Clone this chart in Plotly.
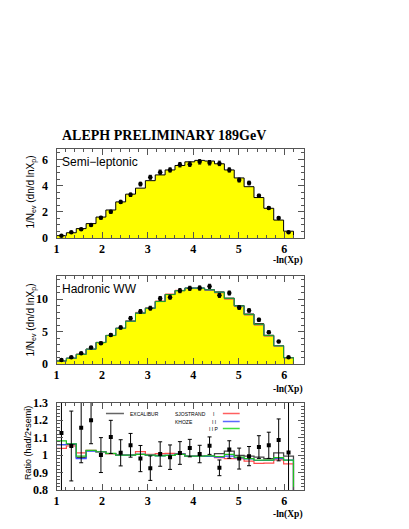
import numpy as np
import plotly.graph_objects as go

# 24 bins in -ln(Xp) from 1.0 to 6.2
edges = np.linspace(1.0, 6.2, 25)
centers = (edges[:-1] + edges[1:]) / 2

semi_mc = [0.18, 0.40, 0.72, 1.10, 1.60, 2.14, 2.76, 3.35, 3.81, 4.38, 4.82, 5.20,
           5.54, 5.82, 5.93, 5.88, 5.67, 5.20, 4.59, 3.92, 3.09, 2.27, 1.37, 0.52]
semi_data = [0.18, 0.44, 0.67, 1.00, 1.55, 2.00, 2.76, 3.30, 4.12, 4.64, 5.03, 5.20,
             5.60, 5.64, 5.82, 5.75, 5.70, 5.20, 4.43, 4.20, 3.22, 2.29, 1.52, 0.44]
semi_err = [0.05, 0.06, 0.07, 0.08, 0.10, 0.11, 0.12, 0.13, 0.14, 0.15, 0.16, 0.16,
            0.17, 0.17, 0.17, 0.17, 0.17, 0.16, 0.15, 0.14, 0.12, 0.10, 0.08, 0.06]

had_excalibur = [0.46, 0.88, 1.50, 2.27, 3.30, 4.38, 5.50, 6.60, 7.84, 8.60, 9.64, 10.70,
                 11.30, 11.70, 11.70, 11.45, 11.10, 10.15, 9.00, 7.70, 6.20, 4.43, 2.83, 0.98]
had_sjostrand_i = [0.45, 0.88, 1.50, 2.30, 3.33, 4.40, 5.50, 6.65, 7.95, 8.65, 9.70, 10.78,
                   11.35, 11.65, 11.62, 11.35, 10.95, 9.98, 8.85, 7.55, 6.00, 4.30, 2.75, 0.95]
had_khoze_ii = [0.46, 0.89, 1.47, 2.29, 3.32, 4.40, 5.50, 6.60, 7.86, 8.60, 9.62, 10.70,
                11.30, 11.68, 11.66, 11.40, 11.02, 10.08, 8.93, 7.60, 6.06, 4.36, 2.79, 0.97]
had_khoze_iip = [0.47, 0.90, 1.48, 2.30, 3.32, 4.40, 5.50, 6.60, 7.85, 8.60, 9.62, 10.70,
                 11.30, 11.68, 11.68, 11.42, 11.05, 10.10, 8.95, 7.62, 6.10, 4.38, 2.80, 0.97]
had_data = [0.62, 1.03, 1.65, 2.53, 3.20, 4.48, 5.62, 7.06, 8.10, 8.60, 10.10, 10.30,
            11.30, 11.65, 11.70, 11.96, 10.57, 10.93, 8.70, 8.25, 6.80, 4.90, 3.45, 1.03]
had_err = [0.10, 0.12, 0.14, 0.17, 0.19, 0.22, 0.24, 0.26, 0.28, 0.29, 0.30, 0.31,
           0.32, 0.32, 0.32, 0.32, 0.31, 0.30, 0.28, 0.26, 0.24, 0.20, 0.17, 0.12]

ratio_excalibur = [1.060, 1.060, 0.985, 1.025, 1.018, 1.008, 1.000, 1.000, 1.004, 1.000, 0.998, 0.998,
                   1.008, 0.994, 0.994, 0.994, 1.008, 1.023, 0.998, 0.994, 0.988, 0.979, 1.013, 0.994]
ratio_sjostrand_i = [1.038, 1.052, 1.013, 1.027, 1.020, 1.008, 1.000, 1.000, 1.020, 1.004, 1.008, 1.010,
                     1.005, 0.994, 0.994, 0.992, 0.985, 0.980, 0.979, 0.965, 0.952, 0.954, 0.973, 0.950]
ratio_khoze_ii = [1.060, 1.065, 0.980, 1.023, 1.019, 1.009, 1.000, 1.000, 1.004, 1.000, 0.996, 0.998,
                  1.005, 0.994, 0.994, 0.993, 0.988, 0.994, 0.984, 0.978, 0.969, 0.969, 0.980, 0.971]
ratio_khoze_iip = [1.081, 1.065, 0.994, 1.027, 1.019, 1.010, 1.000, 1.000, 1.004, 1.000, 0.996, 0.998,
                   1.004, 0.994, 0.994, 0.995, 0.992, 1.004, 0.988, 0.980, 0.971, 0.971, 0.985, 0.971]
ratio_data = [1.127, 1.052, 1.156, 1.200, 1.000, 1.104, 1.013, 1.056, 0.980, 0.925, 1.006, 0.988,
              1.012, 1.040, 1.006, 1.054, 0.927, 1.032, 0.980, 0.994, 1.046, 1.056, 1.087, 1.015]
ratio_err = [0.35, 0.20, 0.20, 0.135, 0.10, 0.095, 0.075, 0.068, 0.075, 0.07, 0.07, 0.07,
             0.065, 0.05, 0.05, 0.05, 0.045, 0.05, 0.06, 0.055, 0.065, 0.075, 0.12, 0.35]


def step(vals):
    # hv step through the bin edges, dropping to zero after the last bin
    return list(vals) + [0.0]


fig = go.Figure()

# --- panel 1: semi-leptonic
fig.add_trace(go.Scatter(x=edges, y=step(semi_mc), mode="lines", line_shape="hv",
                         line=dict(color="black", width=1), fill="tozeroy",
                         fillcolor="#ffff00", xaxis="x", yaxis="y"))
fig.add_trace(go.Scatter(x=centers, y=semi_data, mode="markers",
                         marker=dict(color="black", size=4.5),
                         error_y=dict(array=semi_err, color="black", thickness=1, width=1.5),
                         xaxis="x", yaxis="y"))

# --- panel 2: hadronic WW
fig.add_trace(go.Scatter(x=edges, y=step(had_excalibur), mode="lines", line_shape="hv",
                         line=dict(color="black", width=1), fill="tozeroy",
                         fillcolor="#ffff00", xaxis="x2", yaxis="y2"))
for vals, col in [(had_sjostrand_i, "#ff5a3c"), (had_khoze_ii, "#3c5aff"), (had_khoze_iip, "#22a022")]:
    fig.add_trace(go.Scatter(x=edges, y=step(vals), mode="lines", line_shape="hv",
                             line=dict(color=col, width=1), xaxis="x2", yaxis="y2"))
fig.add_trace(go.Scatter(x=centers, y=had_data, mode="markers",
                         marker=dict(color="black", size=4.5),
                         error_y=dict(array=had_err, color="black", thickness=1, width=1.5),
                         xaxis="x2", yaxis="y2"))

# --- panel 3: ratio
for vals, col, w in [(ratio_excalibur, "#444444", 1.3), (ratio_sjostrand_i, "#ff4b4b", 1.2),
                     (ratio_khoze_ii, "#3c50ff", 1.2), (ratio_khoze_iip, "#1fc01f", 1.2)]:
    fig.add_trace(go.Scatter(x=edges, y=step(vals), mode="lines", line_shape="hv",
                             line=dict(color=col, width=w), xaxis="x3", yaxis="y3"))
fig.add_trace(go.Scatter(x=centers, y=ratio_data, mode="markers",
                         marker=dict(color="black", size=4, symbol="square"),
                         error_y=dict(array=ratio_err, color="black", thickness=1, width=2),
                         xaxis="x3", yaxis="y3"))

# the page body has an 8px margin, so the figure is drawn 8px smaller and
# every position below is given in window pixels, then shifted by OFF
OFF = 8
W, H = 409 - OFF, 529 - OFF


def px(x):
    return (x - OFF) / W


def py(y):
    return 1 - (y - OFF) / H


x_dom = [px(56.5), px(303.5)]


def ydom(top, bottom):
    return [py(bottom), py(top)]


tickfont = dict(family="Liberation Serif", size=12, color="black", weight="bold")
frame = dict(showline=True, linecolor="#555555", linewidth=1, mirror="allticks",
             ticks="inside", tickcolor="#555555", ticklen=6, showgrid=False,
             zeroline=False, tickfont=tickfont, automargin=False)

xcommon = dict(frame, range=[1, 6.42], tick0=1, dtick=1, domain=x_dom,
               minor=dict(ticks="inside", ticklen=3, dtick=0.2, tickcolor="#555555"))
ycommon = dict(frame, ticklabelstandoff=5)

fig.update_layout(
    width=W, height=H, margin=dict(l=0, r=0, t=0, b=0),
    paper_bgcolor="white", plot_bgcolor="white", showlegend=False,
    xaxis=dict(xcommon, anchor="y"),
    yaxis=dict(ycommon, range=[0, 6.8], dtick=2, domain=ydom(149, 238), anchor="x",
               minor=dict(ticks="inside", ticklen=3, dtick=0.5, tickcolor="#555555")),
    xaxis2=dict(xcommon, anchor="y2"),
    yaxis2=dict(ycommon, range=[0, 13.6], dtick=5, domain=ydom(275.7, 364), anchor="x2",
                minor=dict(ticks="inside", ticklen=3, dtick=1, tickcolor="#555555")),
    xaxis3=dict(xcommon, anchor="y3"),
    yaxis3=dict(ycommon, range=[0.8, 1.3], dtick=0.1, domain=ydom(402.7, 490), anchor="x3",
                minor=dict(ticks="inside", ticklen=3, dtick=0.02, tickcolor="#555555")),
)

serif_b = dict(family="Liberation Serif", color="black", weight="bold")
sans = dict(family="Liberation Sans", color="black")

ann = [
    dict(text="ALEPH PRELIMINARY 189GeV", x=px(60), y=py(135), xanchor="left",
         font=dict(serif_b, size=14)),
    dict(text="Semi−leptonic", x=px(60), y=py(162), xanchor="left", font=dict(sans, size=12)),
    dict(text="Hadronic WW", x=px(60), y=py(289), xanchor="left", font=dict(sans, size=12)),
    dict(text="1/N<sub>ev</sub> (dn/d lnX<sub>p</sub>)", x=px(22), y=py(192), textangle=-90,
         font=dict(sans, size=10)),
    dict(text="1/N<sub>ev</sub> (dn/d lnX<sub>p</sub>)", x=px(22), y=py(320), textangle=-90,
         font=dict(sans, size=10)),
    dict(text="Ratio (had/2•semi)", x=px(21), y=py(443), textangle=-90,
         font=dict(sans, size=9)),
]
for ytxt in (261, 389, 514):
    ann.append(dict(text="-ln(Xp)", x=px(305), y=py(ytxt), xanchor="right",
                    font=dict(serif_b, size=9.5)))

# legend of the ratio panel
leg_font = dict(family="Liberation Sans", size=5, color="black")
ann += [
    dict(text="EXCALIBUR", x=2.57, y=1.238, xref="x3", yref="y3", xanchor="left", font=leg_font),
    dict(text="SJOSTRAND", x=3.555, y=1.238, xref="x3", yref="y3", xanchor="left", font=leg_font),
    dict(text="KHOZE", x=3.555, y=1.192, xref="x3", yref="y3", xanchor="left", font=leg_font),
    dict(text="I", x=4.45, y=1.238, xref="x3", yref="y3", xanchor="center", font=leg_font),
    dict(text="I I", x=4.45, y=1.192, xref="x3", yref="y3", xanchor="center", font=leg_font),
    dict(text="I I P", x=4.45, y=1.152, xref="x3", yref="y3", xanchor="center", font=leg_font),
]
for a in ann:
    a.setdefault("xref", "paper")
    a.setdefault("yref", "paper")
    a["showarrow"] = False
    a.setdefault("yanchor", "middle")
fig.update_layout(annotations=ann)

shapes = []
for x0, x1, yy, col in [(2.085, 2.48, 1.238, "#666666"), (4.65, 5.02, 1.238, "#ff6060"),
                        (4.65, 5.02, 1.192, "#5a6aff"), (4.65, 5.02, 1.152, "#40e040")]:
    shapes.append(dict(type="line", xref="x3", yref="y3", x0=x0, x1=x1, y0=yy, y1=yy,
                       line=dict(color=col, width=1.5)))
fig.update_layout(shapes=shapes)

fig.write_html("out.html")
